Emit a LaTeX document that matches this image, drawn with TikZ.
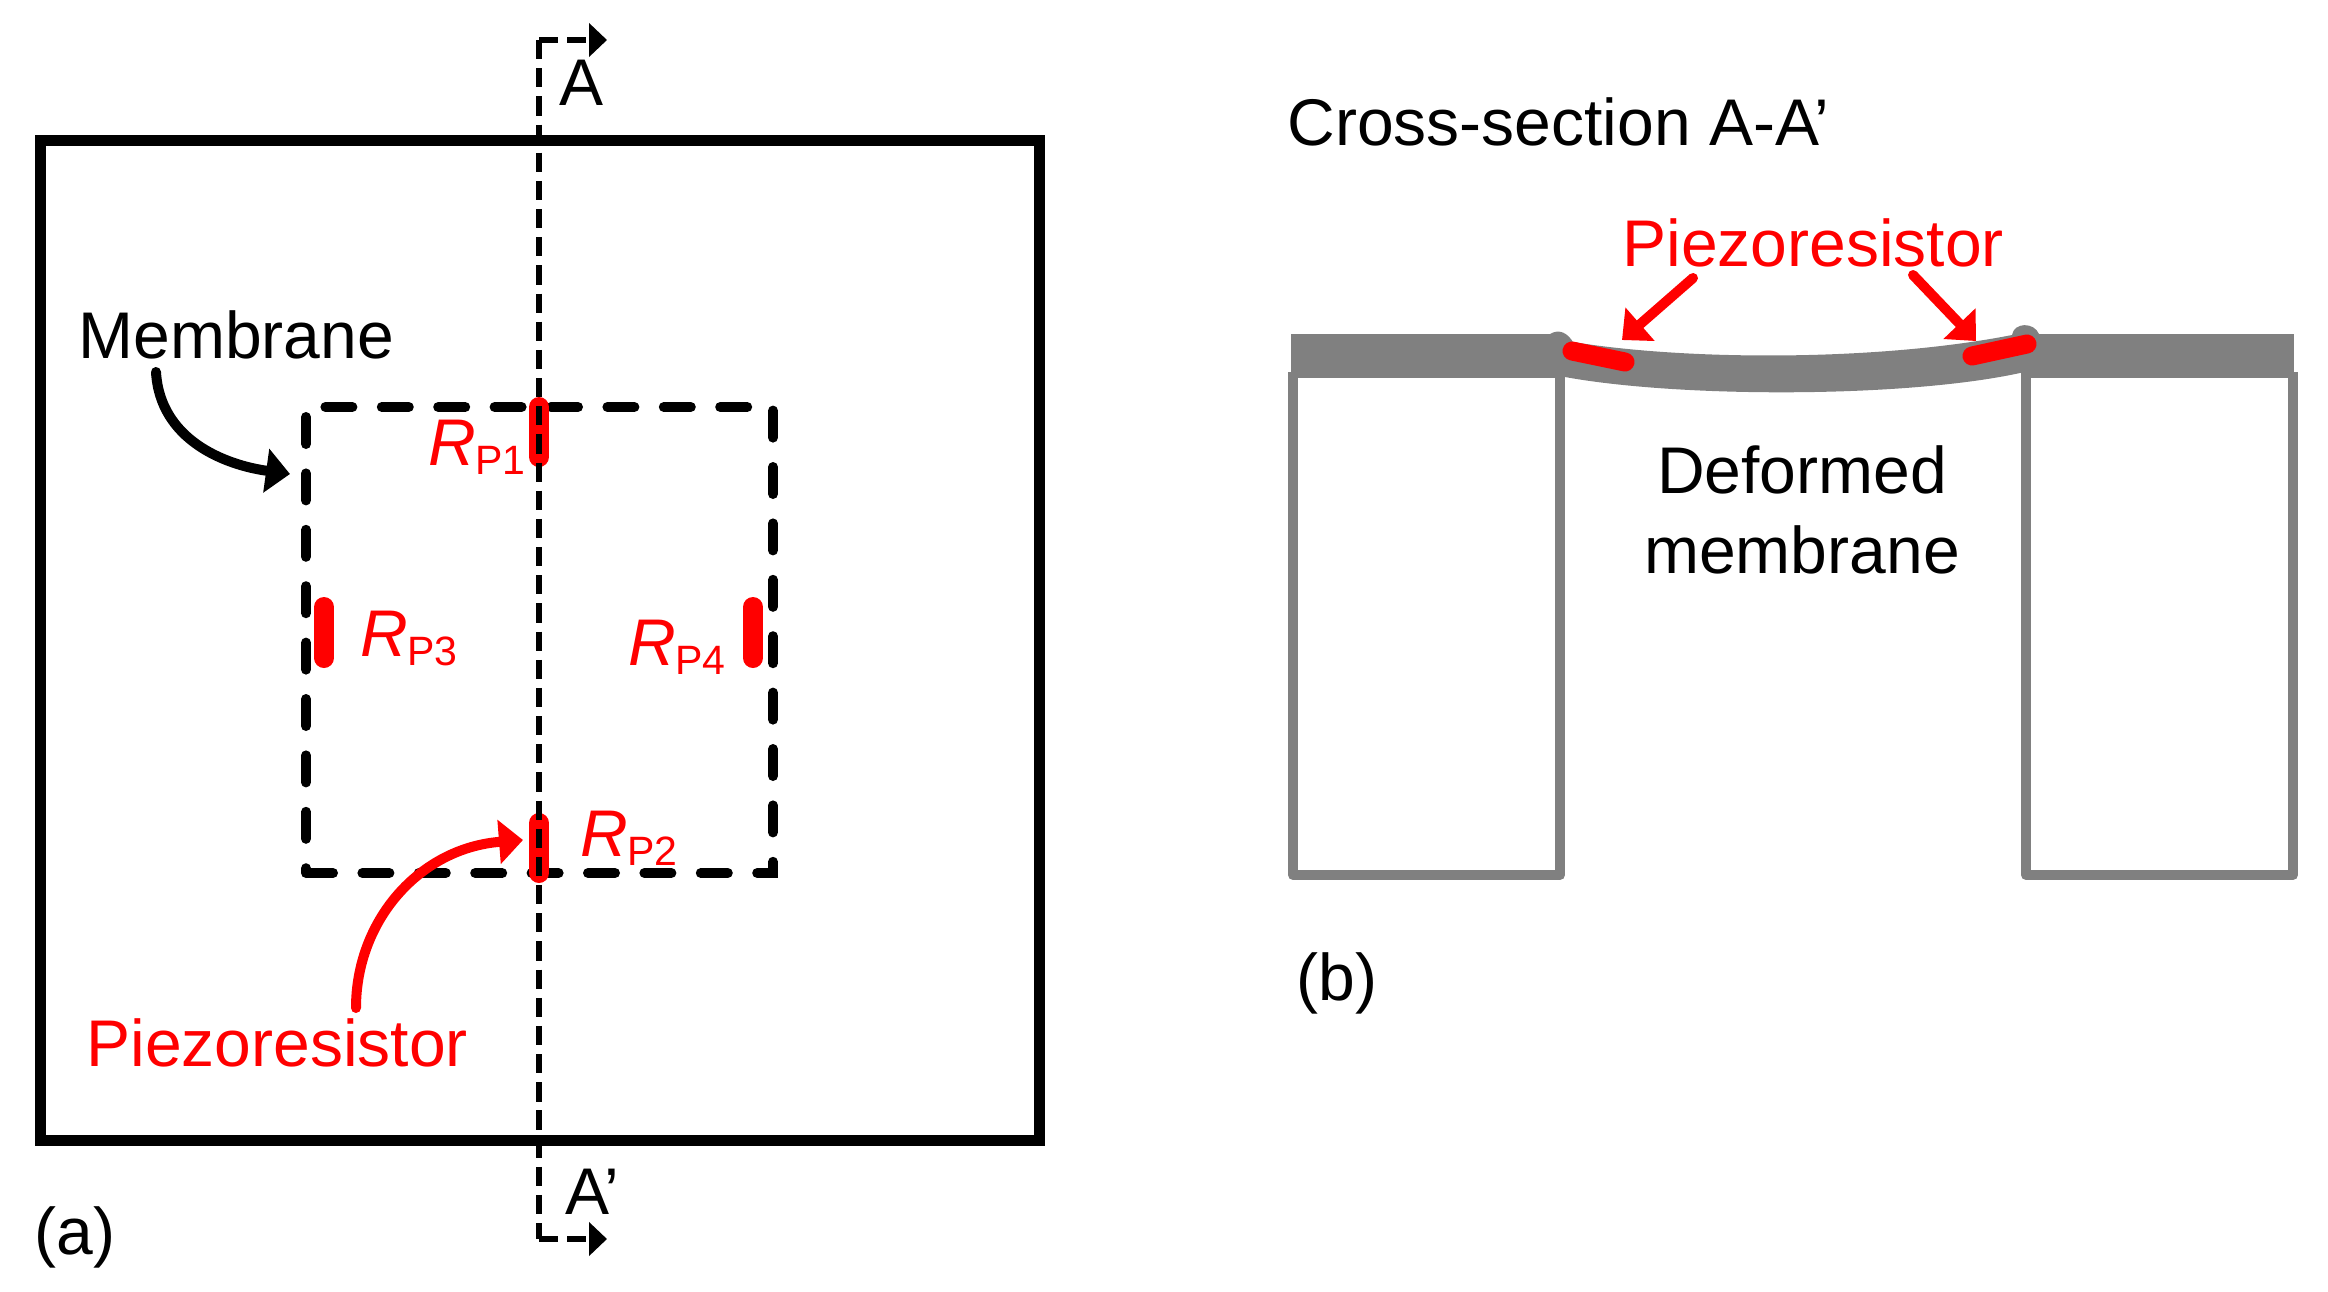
\documentclass[tikz,border=0pt]{standalone}
\usepackage{fontspec}
\setmainfont{Liberation Sans}
\usetikzlibrary{arrows.meta}
\definecolor{wallgray}{RGB}{128,128,128}
\tikzset{
	lbl/.style={inner sep=0pt,anchor=base west,font=\fontsize{33}{40.3}\selectfont},
	redlbl/.style={lbl,text=red},
	bar/.style={red,line width=10pt,line cap=round},
	bigarrow/.style={line width=5pt,line cap=round,-{Triangle[length=12pt,width=21.5pt]}},
	smallarrow/.style={line width=3pt,-{Triangle[length=9pt,width=16.5pt]}},
	secline/.style={line width=3pt,dash pattern=on 9.6pt off 4.485pt},
	wall/.style={draw=wallgray,line width=5pt,line join=round}
}
\newcommand{\rp}[1]{\textit{R}\kern-0.5pt\raisebox{-4.5pt}{\fontsize{20.5}{21}\selectfont P#1}}

\begin{document}
\begin{tikzpicture}[x=0.5pt,y=-0.5pt]
	\useasboundingbox (0,0) rectangle (2328,1291);
	% top view
	\draw (40,140) node (outer) [anchor=north west,inner sep=0pt,outer sep=0pt,minimum width=499.5pt,minimum height=500pt,draw,line width=5.5pt] {};
	\draw[line width=5pt,line cap=round,dash pattern=on 13.5pt off 14.7pt] (306,873) -- (773,873) -- (773,407) -- (306,407) -- cycle;
	\coordinate (rp1a) at (539,407);
	\coordinate (rp1b) at (539,457);
	\coordinate (rp2a) at (539,823);
	\coordinate (rp2b) at (539,873);
	\coordinate (rp3a) at (324,607);
	\coordinate (rp3b) at (324,658);
	\coordinate (rp4a) at (753,607);
	\coordinate (rp4b) at (753,658);
	\draw[bar] (rp1a) -- (rp1b);
	\draw[bar] (rp2a) -- (rp2b);
	\draw[bar] (rp3a) -- (rp3b);
	\draw[bar] (rp4a) -- (rp4b);
	% section line
	\coordinate (sectop) at (539,40);
	\coordinate (secbot) at (539,1239);
	\coordinate (atip) at (607,40);
	\coordinate (btip) at (607,1239);
	\draw[secline] (sectop) -- (secbot);
	\draw[secline,smallarrow] (sectop) -- (atip);
	\draw[secline,smallarrow] (secbot) -- (btip);
	\node (a) [lbl] at (559,105) {A};
	\node (b) [lbl] at (565,1214) {A’};
	\node (rp1) [redlbl] at (428,465) {\rp{1}};
	\node (rp2) [redlbl] at (580,856) {\rp{2}};
	\node (rp3) [redlbl] at (360,656) {\rp{3}};
	\node (rp4) [redlbl] at (628,665) {\rp{4}};
	\node (mem) [lbl] at (78,358) {Membrane};
	\node (piezoa) [redlbl] at (86,1066) {Piezoresistor};
	\node (cap1) [lbl] at (34,1254) {(a)};
	\coordinate (memfrom) at (156,372);
	\coordinate (memto) at (290,474);
	\coordinate (piezofrom) at (356,1008);
	\coordinate (piezoto) at (523,840);
	\draw[bigarrow] (memfrom) .. controls (160,440) and (225,465) .. (memto);
	\draw[bigarrow,red] (piezofrom) .. controls (356,920) and (420,848) .. (piezoto);
	% cross section
	\node (cross) [lbl] at (1287,145) {Cross-section A-A’};
	\draw[wall] (1293,372) -- (1293,875) -- (1560,875) -- (1560,372);
	\draw[wall] (2026,372) -- (2026,875) -- (2293,875) -- (2293,372);
	\fill[wallgray] (1291,334) rectangle (1556,378);
	\fill[wallgray] (2027,334) rectangle (2294,378);
	\fill[wallgray] (1550,334) .. controls (1560,328) and (1568,334) .. (1573,342)
		.. controls (1690,361) and (1880,361) .. (2012,335)
		.. controls (2014,322) and (2034,322) .. (2039,334) -- (2034,372) -- (2020,373)
		.. controls (1905,398) and (1680,398) .. (1565,377) -- (1550,370) -- cycle;
	\coordinate (lbara) at (1572,351);
	\coordinate (lbarb) at (1625,362);
	\coordinate (rbara) at (1972,356);
	\coordinate (rbarb) at (2027,344);
	\draw[bar,line width=9.5pt] (lbara) -- (lbarb);
	\draw[bar,line width=9.5pt] (rbara) -- (rbarb);
	\node (piezob) [redlbl] at (1622,266) {Piezoresistor};
	\coordinate (lfrom) at (1693,278);
	\coordinate (lto) at (1622,340);
	\coordinate (rfrom) at (1913,275);
	\coordinate (rto) at (1976,341);
	\draw[bigarrow,red] (lfrom) -- (lto);
	\draw[bigarrow,red] (rfrom) -- (rto);
	\node (defm) [lbl,anchor=center,align=center] at (1802,510) {Deformed\\membrane};
	\node (cap2) [lbl] at (1296,1000) {(b)};
\end{tikzpicture}
\end{document}
